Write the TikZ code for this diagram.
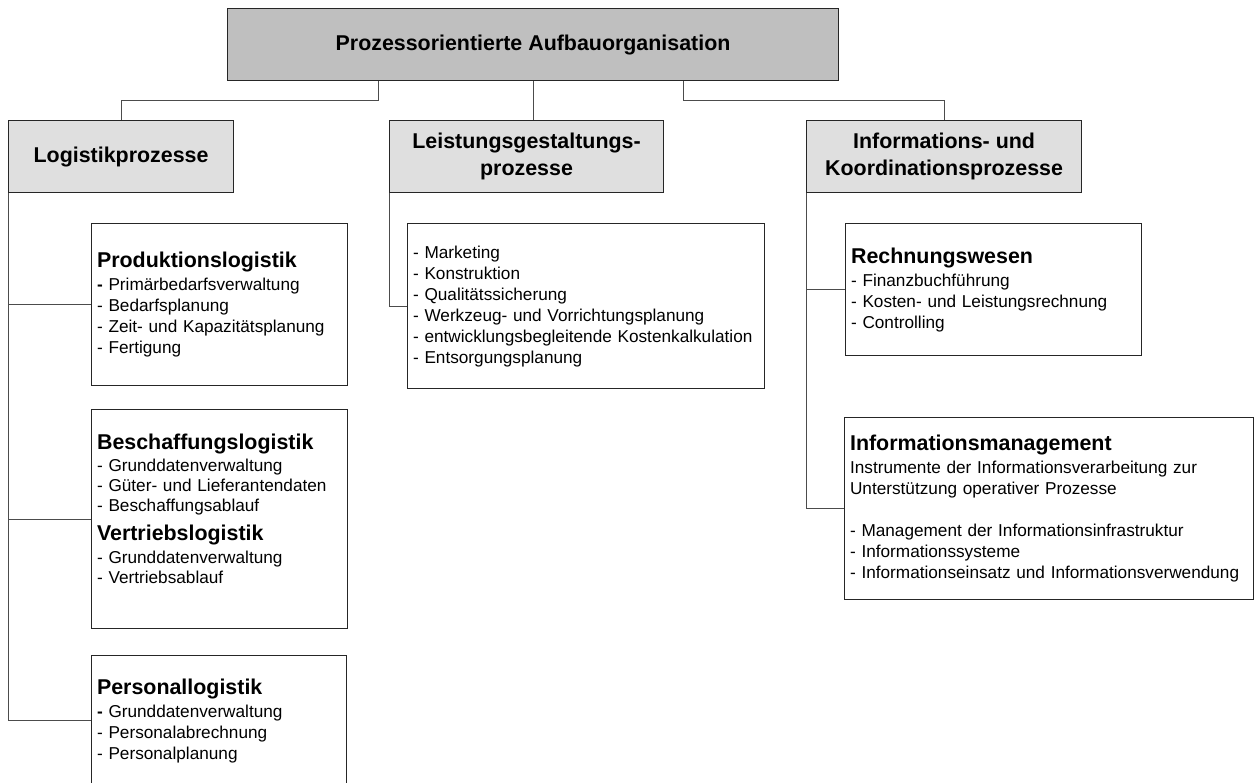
\documentclass[tikz,border=0pt]{standalone}
\usepackage{fontspec}
\setmainfont{Liberation Sans}
\newcommand\hd[1]{{\fontsize{21.4}{21}\selectfont\bfseries #1}}
\begin{document}
\begin{tikzpicture}[x=1pt,y=1pt,
  box/.style={draw=black!85, line width=1.1pt, inner sep=0pt, anchor=north west},
  headbox/.style={box, align=center, font=\fontsize{21.4}{27}\selectfont\bfseries},
  listbox/.style={box, align=left, inner xsep=5.5pt, font=\fontsize{17.2}{21}\selectfont},
  link/.style={draw=black!70, line width=0.9pt}]

% page
\fill[white] (0,0) rectangle (1256,-782);
\useasboundingbox (0,0) rectangle (1256,-782);

% top level
\node[headbox, fill=gray!50, minimum width=611pt, minimum height=72pt] (top) at (227,-8)
  {Prozessorientierte Aufbauorganisation};

% second level
\node[headbox, fill=gray!25, minimum width=225pt, minimum height=72pt] (logi) at (8,-120)
  {Logistikprozesse};
\node[headbox, fill=gray!25, minimum width=274pt, minimum height=72pt] (leist) at (389,-120)
  {Leistungsgestaltungs-\\prozesse};
\node[headbox, fill=gray!25, minimum width=275pt, minimum height=72pt] (info) at (806,-120)
  {Informations- und\\Koordinationsprozesse};

% logistics
\node[listbox, fill=white, text width=245pt, minimum height=162pt] (prod) at (91,-223)
  {\hd{Produktionslogistik}\\[2pt]
   \textbf{-} Primärbedarfsverwaltung\\
   - Bedarfsplanung\\
   - Zeit- und Kapazitätsplanung\\
   - Fertigung};
\node[listbox, fill=white, text width=245pt, minimum height=219pt] (besch) at (91,-409)
  {\hd{Beschaffungslogistik}\\[1pt]
   - Grunddatenverwaltung\\[-1pt]
   - Güter- und Lieferantendaten\\[-1pt]
   - Beschaffungsablauf\\[8pt]
   \hd{Vertriebslogistik}\\[2pt]
   - Grunddatenverwaltung\\[-1pt]
   - Vertriebsablauf\\
   \mbox{}};
\node[listbox, fill=white, text width=244pt, minimum height=130pt] (pers) at (91,-655)
  {\hd{Personallogistik}\\[2pt]
   \textbf{-} Grunddatenverwaltung\\
   - Personalabrechnung\\
   - Personalplanung};

% performance processes
\node[listbox, fill=white, text width=346pt, minimum height=165pt] (leistc) at (407,-223)
  {- Marketing\\
   - Konstruktion\\
   - Qualitätssicherung\\
   - Werkzeug- und Vorrichtungsplanung\\
   - entwicklungsbegleitende Kostenkalkulation\\
   - Entsorgungsplanung};

% information and coordination
\node[listbox, fill=white, text width=285pt, minimum height=132pt] (rech) at (845,-223)
  {\hd{Rechnungswesen}\\[2pt]
   - Finanzbuchführung\\
   - Kosten- und Leistungsrechnung\\
   - Controlling};
\node[listbox, fill=white, text width=398pt, minimum height=182pt] (infom) at (844,-417)
  {\hd{Informationsmanagement}\\[2pt]
   Instrumente der Informationsverarbeitung zur\\
   Unterstützung operativer Prozesse\\[21pt]
   - Management der Informationsinfrastruktur\\
   - Informationssysteme\\
   - Informationseinsatz und Informationsverwendung};

% connectors from the top box
\draw[link] ([xshift=-154.5pt]top.south) -- ++(0,-19) -| (logi.north);
\draw[link] (top.south) -- (top.south |- leist.north);
\draw[link] ([xshift=150.5pt]top.south) -- ++(0,-19) -| (info.north);

% trunks to the detail boxes
\draw[link] (logi.south west) |- (prod.west);
\draw[link] (logi.south west) |- (besch.west);
\draw[link] (logi.south west) |- (pers.west);
\draw[link] (leist.south west) |- (leistc.west);
\draw[link] (info.south west) |- (rech.west);
\draw[link] (info.south west) |- (infom.west);
\end{tikzpicture}
\end{document}
